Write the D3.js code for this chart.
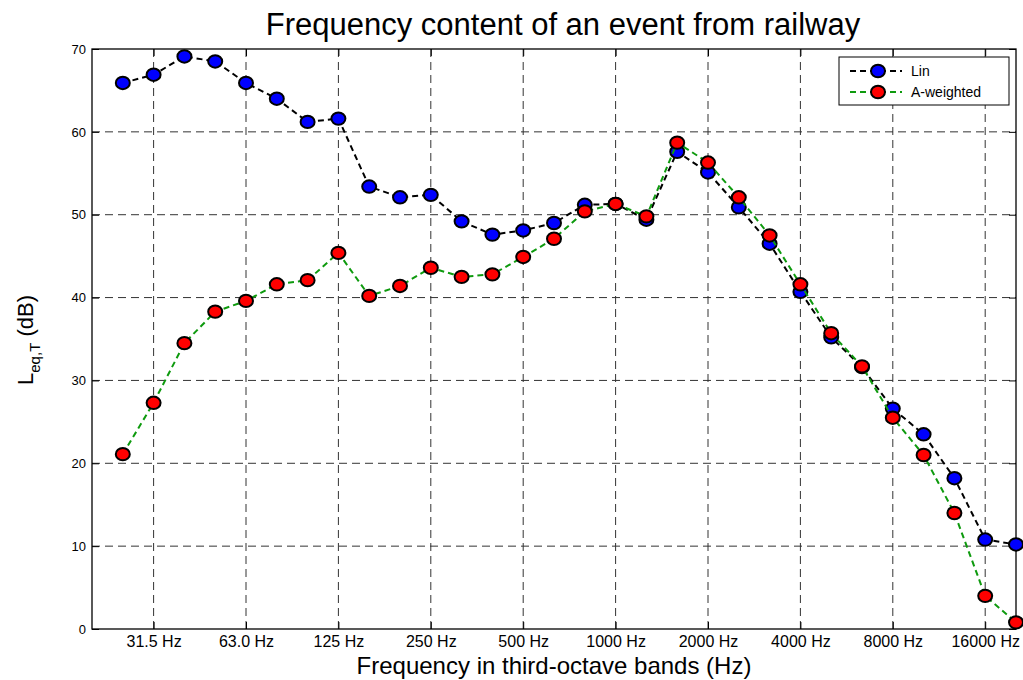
<!DOCTYPE html>
<html>
<head>
<meta charset="utf-8">
<script src="https://cdn.jsdelivr.net/npm/d3@7"></script>
<style>
  body { margin: 0; background: #fff; }
  svg { display: block; }
  text { font-family: 'Liberation Sans', Arial, sans-serif; }
</style>
</head>
<body>
<div id="chart"></div>
<script>
// third-octave band centres (Hz)
var bands = ["25", "31.5", "40", "50", "63", "80", "100", "125", "160", "200",
             "250", "315", "400", "500", "630", "800", "1000", "1250", "1600", "2000",
             "2500", "3150", "4000", "5000", "6300", "8000", "10000", "12500", "16000", "20000"];

var linValues = [65.9, 66.9, 69.1, 68.5, 65.9, 64.0, 61.2, 61.6, 53.4, 52.1,
                 52.4, 49.2, 47.6, 48.1, 49.0, 51.2, 51.3, 49.4, 57.6, 55.1,
                 50.9, 46.5, 40.7, 35.2, 31.6, 26.6, 23.5, 18.2, 10.8, 10.2];

var aWeightedValues = [21.1, 27.3, 34.5, 38.3, 39.6, 41.6, 42.1, 45.4, 40.2, 41.4,
                       43.6, 42.5, 42.8, 44.9, 47.1, 50.4, 51.3, 49.8, 58.7, 56.3,
                       52.1, 47.5, 41.6, 35.7, 31.7, 25.5, 21.0, 14.0, 4.0, 0.8];

var xTickBands = ["31.5", "63", "125", "250", "500", "1000", "2000", "4000", "8000", "16000"];
var xTickLabels = ["31.5 Hz", "63.0 Hz", "125 Hz", "250 Hz", "500 Hz", "1000 Hz", "2000 Hz", "4000 Hz", "8000 Hz", "16000 Hz"];
var yTicks = [0, 10, 20, 30, 40, 50, 60, 70];

var seriesNames = ["Lin", "A-weighted"];

var W = 1023, H = 680;
var margin = {top: 49, right: 7, bottom: 51, left: 92};
var width = W - margin.left - margin.right;
var height = H - margin.top - margin.bottom;

var svg = d3.select("#chart").append("svg")
    .attr("width", W)
    .attr("height", H);

var g = svg.append("g")
    .attr("transform", "translate(" + margin.left + "," + margin.top + ")");

var x = d3.scaleLinear().domain([-1, bands.length - 1]).range([0, width]);
var y = d3.scaleLinear().domain([0, 70]).range([height, 0]);

var xIdx = function(b) { return bands.indexOf(b); };

// grid
g.append("g").selectAll("line")
    .data(xTickBands)
    .join("line")
      .attr("x1", d => x(xIdx(d)))
      .attr("x2", d => x(xIdx(d)))
      .attr("y1", 0)
      .attr("y2", height)
      .attr("stroke", "#333")
      .attr("stroke-width", 1)
      .attr("stroke-dasharray", "8,5");

g.append("g").selectAll("line")
    .data(yTicks.slice(1, -1))
    .join("line")
      .attr("x1", 0)
      .attr("x2", width)
      .attr("y1", d => y(d))
      .attr("y2", d => y(d))
      .attr("stroke", "#333")
      .attr("stroke-width", 1)
      .attr("stroke-dasharray", "8,5");

// axes (matlab style: ticks pointing inward on all four sides)
var xAxis = d3.axisBottom(x)
    .tickValues(xTickBands.map(xIdx))
    .tickSize(-7)
    .tickPadding(7)
    .tickFormat((d, i) => xTickLabels[i]);

g.append("g")
    .attr("transform", "translate(0," + height + ")")
    .call(xAxis)
    .call(s => s.select(".domain").remove())
    .selectAll("text")
      .style("font-size", "16px")
      .attr("fill", "#000");

g.append("g")
    .call(d3.axisTop(x).tickValues(xTickBands.map(xIdx)).tickSize(-7).tickFormat(""))
    .call(s => s.select(".domain").remove());

var yAxis = d3.axisLeft(y)
    .tickValues(yTicks)
    .tickSize(-7)
    .tickPadding(6);

g.append("g")
    .call(yAxis)
    .call(s => s.select(".domain").remove())
    .selectAll("text")
      .style("font-size", "13px")
      .attr("fill", "#000");

g.append("g")
    .attr("transform", "translate(" + width + ",0)")
    .call(d3.axisRight(y).tickValues(yTicks).tickSize(-7).tickFormat(""))
    .call(s => s.select(".domain").remove());

// frame
g.append("rect")
    .attr("x", 0)
    .attr("y", 0)
    .attr("width", width)
    .attr("height", height)
    .attr("fill", "none")
    .attr("stroke", "#000")
    .attr("stroke-width", 1.3);

// series
var series = [
    {name: seriesNames[0], values: linValues, line: "#000", fill: "#0000ff"},
    {name: seriesNames[1], values: aWeightedValues, line: "#0e9a0e", fill: "#ff0000"}
];

var line = d3.line()
    .x((d, i) => x(i))
    .y(d => y(d));

series.forEach(function(s) {
    var sg = g.append("g");
    sg.append("path")
        .datum(s.values)
        .attr("d", line)
        .attr("fill", "none")
        .attr("stroke", s.line)
        .attr("stroke-width", 2)
        .attr("stroke-dasharray", "6,4");
    sg.selectAll("ellipse")
        .data(s.values)
        .join("ellipse")
          .attr("cx", (d, i) => x(i))
          .attr("cy", d => y(d))
          .attr("rx", 7)
          .attr("ry", 6.2)
          .attr("fill", s.fill)
          .attr("stroke", "#000")
          .attr("stroke-width", 2);
});

// legend
var lg = svg.append("g").attr("transform", "translate(839,57)");
lg.append("rect")
    .attr("width", 170)
    .attr("height", 48)
    .attr("fill", "#fff")
    .attr("stroke", "#000")
    .attr("stroke-width", 1);

var item = lg.selectAll(".item")
    .data(series)
    .join("g")
      .attr("class", "item")
      .attr("transform", (d, i) => "translate(0," + (14 + i * 21) + ")");

item.append("line")
    .attr("x1", 11)
    .attr("x2", 63)
    .attr("stroke", d => d.line)
    .attr("stroke-width", 2)
    .attr("stroke-dasharray", "6,4");
item.append("ellipse")
    .attr("cx", 39)
    .attr("rx", 7)
    .attr("ry", 6.2)
    .attr("fill", d => d.fill)
    .attr("stroke", "#000")
    .attr("stroke-width", 2);
item.append("text")
    .attr("x", 72)
    .attr("dy", "0.35em")
    .style("font-size", "14px")
    .text(d => d.name);

// title and labels
svg.append("text")
    .attr("x", 563)
    .attr("y", 35)
    .attr("text-anchor", "middle")
    .style("font-size", "31px")
    .text("Frequency content of an event from railway");

svg.append("text")
    .attr("x", 554)
    .attr("y", 674)
    .attr("text-anchor", "middle")
    .style("font-size", "24px")
    .text("Frequency in third-octave bands (Hz)");

var yl = svg.append("text")
    .attr("transform", "translate(33,340) rotate(-90)")
    .attr("text-anchor", "middle")
    .style("font-size", "22px");
yl.append("tspan").text("L");
yl.append("tspan").attr("dy", 7).style("font-size", "15px").text("eq,T");
yl.append("tspan").attr("dy", -7).text(" (dB)");
</script>
</body>
</html>
